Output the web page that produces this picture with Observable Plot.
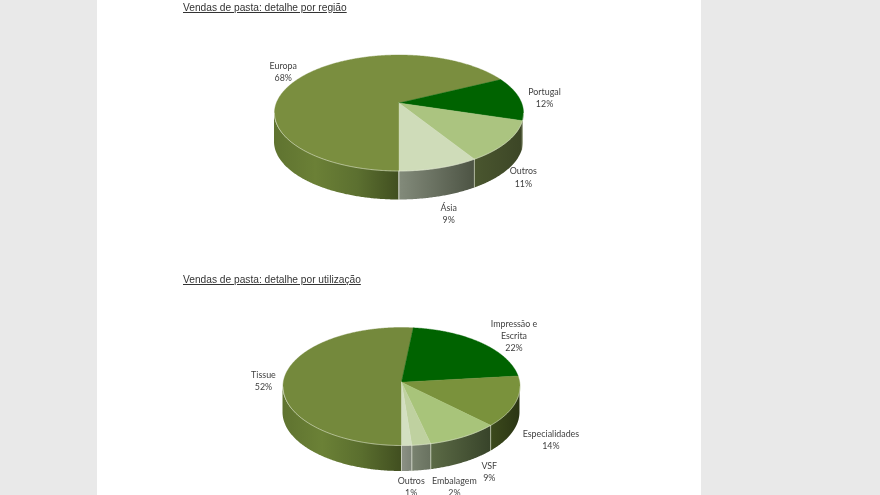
<!DOCTYPE html>
<html lang="pt">
<head>
<meta charset="utf-8">
<script src="https://cdn.jsdelivr.net/npm/d3@7"></script>
<script src="https://cdn.jsdelivr.net/npm/@observablehq/plot@0.6"></script>
<style>
  html, body { margin: 0; padding: 0; width: 880px; height: 495px; overflow: hidden; background: #e9e9e9; }
  #page { position: absolute; left: 97px; top: 0; width: 604px; height: 495px; background: #fff; overflow: hidden; filter: blur(0.55px); }
  #page h2 { position: absolute; left: 86px; margin: 0; font: 400 10.2px/12px "Liberation Sans", Arial, sans-serif; color: #333; text-decoration: underline; white-space: nowrap; }
  #page .holder { position: absolute; left: 0; }
  #page svg { display: block; overflow: visible; background: transparent; }
</style>
</head>
<body>
<div id="page">
  <h2 style="top:2px">Vendas de pasta: detalhe por região</h2>
  <div class="holder" id="chartA" style="top:16px"></div>
  <h2 style="top:274px">Vendas de pasta: detalhe por utilização</h2>
  <div class="holder" id="chartB" style="top:290px"></div>
</div>
<script>
// Data (slice shares; the labels show them rounded)
const regionLabels = ["Europa", "Portugal", "Outros", "Ásia"];
const regionValues = [67.6, 12.2, 11.4, 8.8];
const useLabels = ["Tissue", "Impressão e\nEscrita", "Especialidades", "VSF", "Embalagem", "Outros"];
const useValues = [51.7, 21.6, 14, 9, 2.4, 1.3];

// Styling
const regionTop = ["#7a8e3f", "#006300", "#abc480", "#cfdcb9"];
const regionSide = [
  ["#5f7330", "#6b8036", "#5c7030", "#414f20"],
  ["#39431f", "#39431f"],
  ["#4a562f", "#3c4626"],
  ["#838b7b", "#4d5444"]
];
const useTop = ["#74893c", "#006300", "#7a923c", "#a8c47a", "#bfd1a0", "#d3dfc1"];
const useSide = [
  ["#5f7330", "#6b8136", "#5a6e2e", "#414f20"],
  ["#39431f", "#39431f"],
  ["#3c4a1c", "#2b3514"],
  ["#5c6b46", "#38442a"],
  ["#7a8370", "#697260"],
  ["#8d9286", "#7e8478"]
];

// Layout: pie geometry in page pixels, label nudges from each slice's rim midpoint
const regionLayout = {cx: 398.5, cy: 112.5, rx: 124.5, ry: 58, tilt: 0.172, depth: 29, top: 16, height: 250,
  nudges: [[-20, -5], [25, -1], [16, 35], [9.5, 45]]};
const useLayout = {cx: 401, cy: 386, rx: 118.5, ry: 59, tilt: 0.073, depth: 26, top: 290, height: 205,
  nudges: [[-20.5, 1], [33, -7.4], [35, 37], [25.6, 34], [33, 41.5], [4.5, 41]]};

function pieChart(id, labels, values, tops, sides, g) {
  const total = d3.sum(values);
  const s = Math.sqrt(1 - g.tilt * g.tilt);
  // Disc point (perspective-shifted circle) at polar radius r and clockwise angle deg from top
  const project = (deg, r = 1) => {
    const t = deg * Math.PI / 180, u = r * Math.sin(t), v = r * Math.cos(t);
    const k = 1 + g.tilt * v;
    const ex = u * s / k, ey = (v + g.tilt) / k;
    return {x: g.cx + g.rx * ex, y: g.cy - g.ry * ey, ey};
  };
  let acc = 180;
  const slices = values.map((v, i) => {
    const a0 = acc, a1 = acc + v / total * 360;
    acc = a1;
    const n = Math.max(2, Math.ceil((a1 - a0) * 2));
    const arc = d3.range(n + 1).map(j => project(a0 + (a1 - a0) * j / n));
    return {i, v, a0, a1, arc, front: arc.filter(p => p.ey <= 0), rim: project((a0 + a1) / 2)};
  });
  const apex = project(0, 0);
  const defs = () => {
    const ns = "http://www.w3.org/2000/svg";
    const el = document.createElementNS(ns, "defs");
    slices.forEach(sl => {
      const gr = document.createElementNS(ns, "linearGradient");
      gr.setAttribute("id", `${id}-side-${sl.i}`);
      sides[sl.i].forEach((c, k, arr) => {
        const st = document.createElementNS(ns, "stop");
        st.setAttribute("offset", k / (arr.length - 1));
        st.setAttribute("stop-color", c);
        gr.appendChild(st);
      });
      el.appendChild(gr);
    });
    return el;
  };
  const marks = [defs];
  slices.filter(sl => sl.front.length > 1).forEach(sl => {
    marks.push(Plot.areaY(sl.front, {
      x: "x", y1: "y", y2: d => d.y + g.depth,
      fill: `url(#${id}-side-${sl.i})`
    }));
  });
  const dividers = slices.flatMap(sl => {
    const p = sl.arc[0];
    return p.ey <= 0 ? [{x: p.x, y: p.y, y2: p.y + g.depth}] : [];
  });
  marks.push(Plot.link(dividers, {
    x1: "x", x2: "x", y1: "y", y2: "y2", stroke: "#e6ebda", strokeWidth: 0.9, strokeOpacity: 0.7
  }));
  slices.forEach(sl => {
    marks.push(Plot.line([apex, ...sl.arc, apex], {
      x: "x", y: "y", fill: tops[sl.i], stroke: tops[sl.i], strokeWidth: 0.4, curve: "linear"
    }));
  });
  slices.filter(sl => sl.front.length > 1).forEach(sl => {
    marks.push(Plot.line(sl.front, {
      x: "x", y: "y", stroke: "#e6ebda", strokeWidth: 0.8, strokeOpacity: 0.7, curve: "linear"
    }));
  });
  const labelRows = slices.map(sl => ({
    text: `${labels[sl.i]}\n${Math.round(sl.v)}%`,
    x: sl.rim.x + g.nudges[sl.i][0],
    y: sl.rim.y + g.nudges[sl.i][1]
  }));
  marks.push(Plot.text(labelRows, {
    x: "x", y: "y", text: "text", lineHeight: 1.36, fill: "#3f3f3f",
    fontFamily: "Lato, sans-serif", fontSize: 8.9
  }));
  const chart = Plot.plot({
    width: 604, height: g.height,
    marginTop: 0, marginRight: 0, marginBottom: 0, marginLeft: 0,
    x: {domain: [97, 701], axis: null},
    y: {domain: [g.top, g.top + g.height], range: [0, g.height], axis: null},
    marks
  });
  document.getElementById(id).appendChild(chart);
}

pieChart("chartA", regionLabels, regionValues, regionTop, regionSide, regionLayout);
pieChart("chartB", useLabels, useValues, useTop, useSide, useLayout);
</script>
</body>
</html>
